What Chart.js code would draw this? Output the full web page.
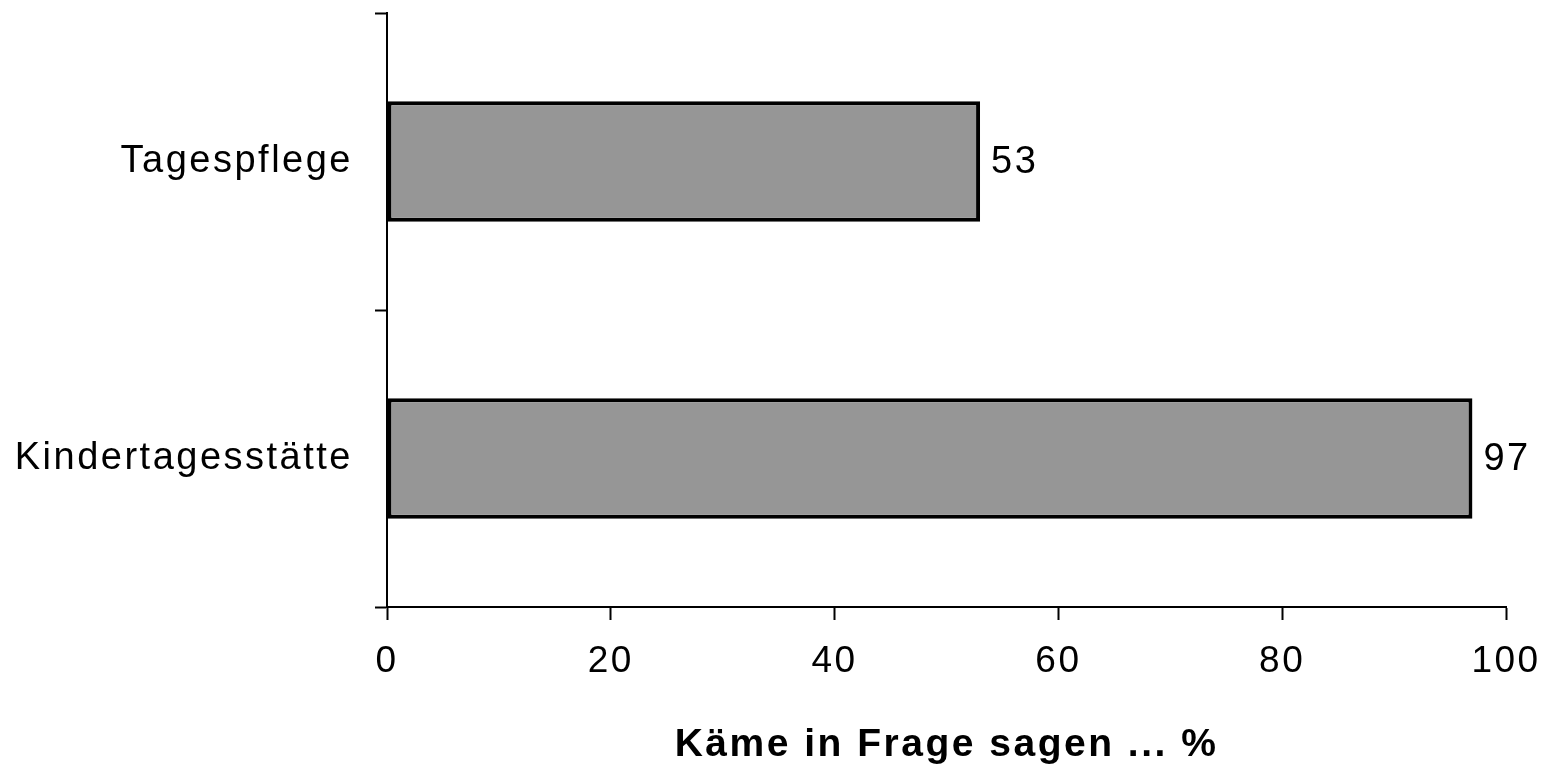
<!DOCTYPE html>
<html>
<head>
<meta charset="utf-8">
<script src="https://cdn.jsdelivr.net/npm/chart.js@4"></script>
<style>
  html, body { margin: 0; padding: 0; background: #fff; }
  #wrap { width: 1555px; height: 769px; }
</style>
</head>
<body>
<div id="wrap"><canvas id="chart"></canvas></div>
<script>
let categories = ["Tagespflege", "Kindertagesstätte"];
let values = [53, 97];
let axisTitle = "Käme in Frage sagen ... %";

// etwas breitere Schrift wie im Original
let spacing = {
    id: "spacing",
    beforeLayout(chart) { chart.ctx.letterSpacing = "2.5px"; },
    beforeDraw(chart) { chart.ctx.letterSpacing = "2.5px"; }
};

// Werte neben den Balken
let valueLabels = {
    id: "valueLabels",
    afterDatasetsDraw(chart) {
        let ctx = chart.ctx;
        let meta = chart.getDatasetMeta(0);
        ctx.save();
        ctx.font = "38px 'Liberation Sans', Arial, sans-serif";
        ctx.fillStyle = "#000";
        ctx.textAlign = "left";
        ctx.textBaseline = "middle";
        meta.data.forEach((bar, i) => {
            ctx.fillText(values[i], bar.x + 11, bar.y + 1);
        });
        ctx.restore();
    }
};

let ctx = document.getElementById("chart").getContext("2d");
new Chart(ctx, {
    type: "bar",
    data: {
        labels: categories,
        datasets: [{
            data: values,
            backgroundColor: "#969696",
            borderColor: "#000",
            borderWidth: 4,
            borderSkipped: false,
            categoryPercentage: 1,
            barPercentage: 0.405
        }]
    },
    options: {
        indexAxis: "y",
        responsive: true,
        maintainAspectRatio: false,
        animation: false,
        layout: { padding: { top: 13, right: 49, left: 0, bottom: 0 } },
        plugins: { legend: { display: false }, tooltip: { enabled: false } },
        scales: {
            x: {
                min: 0,
                max: 100,
                ticks: {
                    stepSize: 20,
                    color: "#000",
                    padding: 20,
                    font: { family: "'Liberation Sans', Arial, sans-serif", size: 37 }
                },
                grid: {
                    drawOnChartArea: false,
                    tickLength: 13,
                    tickColor: "#000",
                    tickWidth: 2
                },
                border: { color: "#000", width: 2 },
                title: {
                    display: true,
                    text: axisTitle,
                    color: "#000",
                    padding: { top: 18, bottom: 0 },
                    font: { family: "'Liberation Sans', Arial, sans-serif", size: 39, weight: "bold" }
                },
                afterFit(scale) {
                    scale.height = 162;
                    scale.paddingLeft = 0;
                    scale.paddingRight = 0;
                }
            },
            y: {
                ticks: {
                    color: "#000",
                    padding: 22,
                    font: { family: "'Liberation Sans', Arial, sans-serif", size: 38 }
                },
                grid: {
                    offset: true,
                    drawOnChartArea: false,
                    tickLength: 12,
                    tickColor: "#000",
                    tickWidth: 2
                },
                border: { color: "#000", width: 2 },
                afterFit(scale) {
                    scale.width = 387;
                    scale.paddingTop = 0;
                    scale.paddingBottom = 0;
                }
            }
        }
    },
    plugins: [spacing, valueLabels]
});
</script>
</body>
</html>
